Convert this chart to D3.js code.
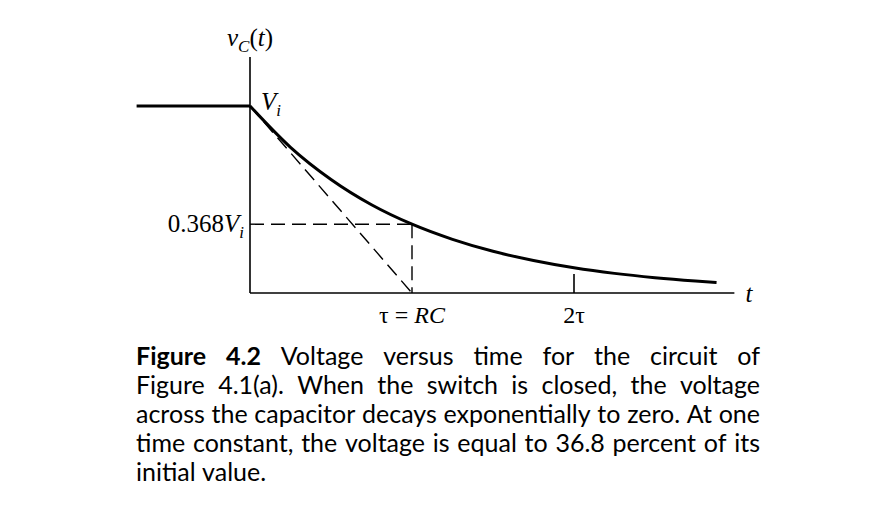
<!DOCTYPE html>
<html>
<head>
<meta charset="utf-8">
<script src="https://cdn.jsdelivr.net/npm/d3@7"></script>
<style>
  html, body { margin: 0; padding: 0; background: #fff; }
  svg { display: block; }
</style>
</head>
<body>
<svg id="chart" width="895" height="524"></svg>
<script>
// ---- data (time in units of tau, voltage as fraction of Vi) ----
const preT = [-0.70, 0];
const preV = [1, 1];
const decayT = [0, 0.25, 0.5, 0.75, 1.0, 1.25, 1.5, 1.75, 2.0, 2.25, 2.5, 2.75, 2.88];
const decayV = [1, 0.779, 0.607, 0.472, 0.368, 0.287, 0.223, 0.174, 0.135, 0.105, 0.082, 0.064, 0.056];
const tangentT = [0, 1];
const tangentV = [1, 0];
const levelV = 0.368;
const tickT = [1, 2];
const tickLabels = ["τ = RC", "2τ"];
const captionBold = ["Figure", "4.2"];
const captionLines = [
  "Voltage versus time for the circuit of",
  "Figure 4.1(a). When the switch is closed, the voltage",
  "across the capacitor decays exponentially to zero. At one",
  "time constant, the voltage is equal to 36.8 percent of its",
  "initial value."
];

const svg = d3.select("#chart");
const x = d3.scaleLinear().domain([0, 1]).range([250, 412]);
const y = d3.scaleLinear().domain([0, 1]).range([293, 106]);
const xMax = 2.99, yMax = 1.262;

const serif = "'Liberation Serif', 'Times New Roman', serif";
const line = d3.line().x(d => x(d[0])).y(d => y(d[1]));
const g = svg.append("g");

// axes
g.append("line").attr("x1", x(0)).attr("x2", x(0)).attr("y1", y(0)).attr("y2", y(yMax))
  .attr("stroke", "#000").attr("stroke-width", 1.6);
g.append("line").attr("x1", x(0)).attr("x2", x(xMax)).attr("y1", y(0)).attr("y2", y(0))
  .attr("stroke", "#000").attr("stroke-width", 1.6);

// 2tau tick
g.append("line").attr("x1", x(tickT[1])).attr("x2", x(tickT[1]))
  .attr("y1", y(0)).attr("y2", y(0) - 19)
  .attr("stroke", "#000").attr("stroke-width", 1.6);

// dashed guide lines
const dash = "14,7";
g.append("path").attr("d", line([[0, levelV], [1, levelV]]))
  .attr("fill", "none").attr("stroke", "#000").attr("stroke-width", 1.4).attr("stroke-dasharray", dash);
g.append("path").attr("d", line([[1, levelV], [1, 0]]))
  .attr("fill", "none").attr("stroke", "#000").attr("stroke-width", 1.4).attr("stroke-dasharray", dash);
g.append("path").attr("d", line(tangentT.map((t, i) => [t, tangentV[i]])))
  .attr("fill", "none").attr("stroke", "#000").attr("stroke-width", 1.4).attr("stroke-dasharray", dash);

// curves
g.append("path").attr("d", line(preT.map((t, i) => [t, preV[i]])))
  .attr("fill", "none").attr("stroke", "#000").attr("stroke-width", 3);
g.append("path").attr("d", d3.line().x(d => x(d[0])).y(d => y(d[1])).curve(d3.curveMonotoneX)(decayT.map((t, i) => [t, decayV[i]])))
  .attr("fill", "none").attr("stroke", "#000").attr("stroke-width", 3);

// labels
function mathLabel(sel, parts) {
  parts.forEach(p => {
    const ts = sel.append("tspan").text(p.t);
    if (p.it) ts.attr("font-style", "italic");
    if (p.sub) ts.attr("font-size", "17px").attr("dy", 6);
    if (p.up) ts.attr("dy", -6);
  });
}
const yl = g.append("text").attr("x", x(0)).attr("y", 46).attr("text-anchor", "middle")
  .attr("font-family", serif).attr("font-size", "25px");
mathLabel(yl, [{t: "v", it: true}, {t: "C", it: true, sub: true}, {t: "(", up: true}, {t: "t", it: true}, {t: ")"}]);

const vi = g.append("text").attr("x", x(0) + 11).attr("y", 110)
  .attr("font-family", serif).attr("font-size", "25px");
mathLabel(vi, [{t: "V", it: true}, {t: "i", it: true, sub: true}]);

const lv = g.append("text").attr("x", x(0) - 6).attr("y", 232).attr("text-anchor", "end")
  .attr("font-family", serif).attr("font-size", "25px");
mathLabel(lv, [{t: "0.368"}, {t: "V", it: true}, {t: "i", it: true, sub: true}]);

const t1 = g.append("text").attr("x", x(tickT[0])).attr("y", 323).attr("text-anchor", "middle")
  .attr("font-family", serif).attr("font-size", "24px");
mathLabel(t1, [{t: "τ = "}, {t: "RC", it: true}]);
g.append("text").attr("x", x(tickT[1])).attr("y", 323).attr("text-anchor", "middle")
  .attr("font-family", serif).attr("font-size", "24px").text(tickLabels[1]);

g.append("text").attr("x", 749).attr("y", 302).attr("text-anchor", "middle")
  .attr("font-family", serif).attr("font-size", "25px").attr("font-style", "italic").text("t");

// caption, justified
const capFont = "Lato, 'Open Sans', sans-serif";
const left = 136, right = 760;
const baselines = [365, 394, 423, 452, 481];

function measure(text, bold, size) {
  const t = svg.append("text").attr("font-family", capFont).attr("font-size", size + "px")
    .attr("font-weight", bold ? "bold" : "normal").attr("xml:space", "preserve").text(text);
  const w = t.node().getComputedTextLength();
  t.remove();
  return w;
}
// size the font so the tightest line (line 3) sets naturally across the measure
const capSize = Math.min(25, 22 * 622 / measure(captionLines[2], false, 22));
const spaceW = measure("a a", false, capSize) - measure("aa", false, capSize);

captionLines.forEach((ln, i) => {
  let words = ln.split(" ").map(w => ({t: w, b: false}));
  if (i === 0) words = captionBold.map(w => ({t: w, b: true})).concat(words);
  const widths = words.map(w => measure(w.t, w.b, capSize));
  const total = d3.sum(widths);
  const last = i === captionLines.length - 1;
  const gap = last ? spaceW : (right - left - total) / (words.length - 1);
  let cx = left;
  words.forEach((w, j) => {
    svg.append("text").attr("x", cx).attr("y", baselines[i])
      .attr("font-family", capFont).attr("font-size", capSize + "px")
      .attr("font-weight", w.b ? "bold" : "normal").attr("fill", "#000").text(w.t);
    cx += widths[j] + gap;
  });
});
</script>
</body>
</html>
